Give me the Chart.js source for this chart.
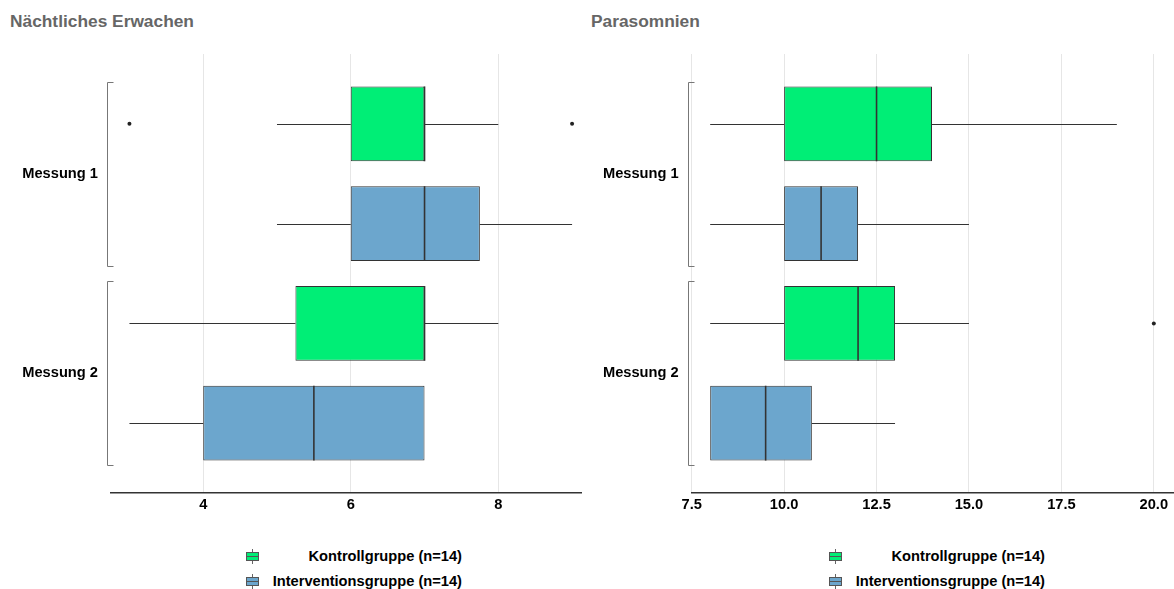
<!DOCTYPE html>
<html><head><meta charset="utf-8">
<script src="https://cdn.jsdelivr.net/npm/chart.js@4.4.1/dist/chart.umd.min.js"></script>
<style>
html,body{margin:0;padding:0;background:#fff;overflow:hidden;width:1174px;height:589px;}
body{position:relative;font-family:"Liberation Sans",Arial,sans-serif;}
.title{position:absolute;top:11px;font-weight:bold;font-size:17.33px;line-height:20px;color:#666;white-space:nowrap;}
canvas{position:absolute;top:0;}
.legtxt{position:absolute;font-weight:bold;font-size:14.67px;line-height:18px;color:#000;text-align:right;white-space:nowrap;}
.ico{position:absolute;width:13px;height:15px;}
.ico .wh{position:absolute;left:6px;top:0;width:1px;height:15px;background:#666;}
.ico .bx{position:absolute;left:0;top:3px;width:11px;height:7px;border:1px solid #555;}
.ico .md{position:absolute;left:0;right:0;top:3px;height:1px;background:#555;}
</style>
</head><body>
<div class="title" style="left:10px;">Nächtliches Erwachen</div>
<div class="title" style="left:591px;">Parasomnien</div>
<canvas id="c1" width="587" height="520" style="left:0px;width:587px;height:520px;"></canvas>
<canvas id="c2" width="590" height="520" style="left:587px;width:590px;height:520px;"></canvas>
<div id="legends"></div>
<script>
// ---------- data ----------
const categories = ["Messung 1", "Messung 2"];
const seriesNames = ["Kontrollgruppe (n=14)", "Interventionsgruppe (n=14)"];
const seriesColors = ["#00EE76", "#6CA6CD"];

// Panel 1: Nächtliches Erwachen
const erwachenKontrollMin = [5, 3];
const erwachenKontrollQ1 = [6, 5.25];
const erwachenKontrollMedian = [7, 7];
const erwachenKontrollQ3 = [7, 7];
const erwachenKontrollMax = [8, 8];
const erwachenKontrollOutliers = [[3, 9], []];
const erwachenInterventionMin = [5, 3];
const erwachenInterventionQ1 = [6, 4];
const erwachenInterventionMedian = [7, 5.5];
const erwachenInterventionQ3 = [7.75, 7];
const erwachenInterventionMax = [9, 7];
const erwachenInterventionOutliers = [[], []];
const erwachenTicks = [4, 6, 8];

// Panel 2: Parasomnien
const paraKontrollMin = [8, 8];
const paraKontrollQ1 = [10, 10];
const paraKontrollMedian = [12.5, 12];
const paraKontrollQ3 = [14, 13];
const paraKontrollMax = [19, 15];
const paraKontrollOutliers = [[], [20]];
const paraInterventionMin = [8, 8];
const paraInterventionQ1 = [10, 8];
const paraInterventionMedian = [11, 9.5];
const paraInterventionQ3 = [12, 10.75];
const paraInterventionMax = [15, 13];
const paraInterventionOutliers = [[], []];
const paraTicks = [7.5, 10, 12.5, 15, 17.5, 20];

// ---------- chart ----------
const FONT = '"Liberation Sans", Arial, sans-serif';

function makeDataset(idx, q1, q3, mn, med, mx, outl) {
  return {
    label: seriesNames[idx],
    data: categories.map((c, i) => ({ y: i + 1, x: [q1[i], q3[i]] })),
    backgroundColor: seriesColors[idx],
    borderColor: '#333333',
    borderWidth: 1,
    borderSkipped: false,
    categoryPercentage: 1,
    barPercentage: 0.75,
    stats: { min: mn, median: med, max: mx, outliers: outl }
  };
}

const boxPlugin = {
  id: 'boxExtras',
  afterDatasetsDraw(chart) {
    const ctx = chart.ctx, xs = chart.scales.x;
    chart.data.datasets.forEach((ds, di) => {
      const meta = chart.getDatasetMeta(di);
      meta.data.forEach((bar, i) => {
        const s = ds.stats;
        const yc = Math.round(bar.y) + 0.5;
        const h = bar.height;
        const q1 = ds.data[i].x[0], q3 = ds.data[i].x[1];
        ctx.save();
        ctx.strokeStyle = '#333333';
        ctx.lineWidth = 1;
        ctx.beginPath();
        if (s.min[i] < q1) {
          ctx.moveTo(xs.getPixelForValue(s.min[i]), yc);
          ctx.lineTo(xs.getPixelForValue(q1), yc);
        }
        if (s.max[i] > q3) {
          ctx.moveTo(xs.getPixelForValue(q3), yc);
          ctx.lineTo(xs.getPixelForValue(s.max[i]), yc);
        }
        ctx.stroke();
        ctx.lineWidth = 1.6;
        ctx.beginPath();
        const mx = xs.getPixelForValue(s.median[i]);
        ctx.moveTo(mx, bar.y - h / 2);
        ctx.lineTo(mx, bar.y + h / 2);
        ctx.stroke();
        ctx.fillStyle = '#222222';
        s.outliers[i].forEach(v => {
          ctx.beginPath();
          ctx.arc(xs.getPixelForValue(v), bar.y, 2, 0, Math.PI * 2);
          ctx.fill();
        });
        ctx.restore();
      });
    });
    // brackets on the category axis
    const ys = chart.scales.y, L = chart.chartArea.left;
    ctx.save();
    ctx.strokeStyle = '#777777';
    ctx.lineWidth = 1;
    categories.forEach((c, i) => {
      const a = ys.getPixelForValue(i + 1 - 0.46), b = ys.getPixelForValue(i + 1 + 0.46);
      const t = Math.round(Math.min(a, b)) + 0.5, bt = Math.round(Math.max(a, b)) + 0.5;
      const vx = Math.round(L - 4) + 0.5;
      ctx.beginPath();
      ctx.moveTo(vx + 6, t); ctx.lineTo(vx, t); ctx.lineTo(vx, bt); ctx.lineTo(vx + 6, bt);
      ctx.stroke();
    });
    ctx.restore();
  }
};

function makeChart(id, datasets, ticks, xmin, xmax, yAxisWidth, padRight, fmt) {
  return new Chart(document.getElementById(id), {
    type: 'bar',
    data: { datasets },
    plugins: [boxPlugin],
    options: {
      indexAxis: 'y',
      responsive: false,
      animation: false,
      devicePixelRatio: 1,
      layout: { padding: { top: 54, right: padRight, left: 0, bottom: 0 } },
      plugins: { legend: { display: false }, tooltip: { enabled: false }, title: { display: false } },
      scales: {
        x: {
          type: 'linear', min: xmin, max: xmax, bounds: 'data', offset: false,
          afterBuildTicks: s => { s.ticks = ticks.map(v => ({ value: v })); },
          afterFit: s => { s.height = 27; },
          grid: { color: '#e6e6e6', lineWidth: 1, drawTicks: false, offset: false },
          border: { display: true, color: '#333333', width: 1.5 },
          ticks: { font: { family: FONT, size: 14.67, weight: 'bold' }, color: '#000', padding: 3,
                   maxRotation: 0, autoSkip: false, callback: v => fmt(v) }
        },
        y: {
          type: 'linear', min: 0.4, max: 2.6, reverse: true, bounds: 'data', offset: false,
          afterBuildTicks: s => { s.ticks = categories.map((c, i) => ({ value: i + 1 })); },
          afterFit: s => { s.width = yAxisWidth; },
          grid: { display: false, drawTicks: false, offset: false },
          border: { display: false },
          ticks: { font: { family: FONT, size: 14.67, weight: 'bold' }, color: '#000', padding: 13,
                   callback: v => categories[Math.round(v) - 1] }
        }
      }
    }
  });
}

makeChart('c1', [
  makeDataset(0, erwachenKontrollQ1, erwachenKontrollQ3, erwachenKontrollMin, erwachenKontrollMedian, erwachenKontrollMax, erwachenKontrollOutliers),
  makeDataset(1, erwachenInterventionQ1, erwachenInterventionQ3, erwachenInterventionMin, erwachenInterventionMedian, erwachenInterventionMax, erwachenInterventionOutliers)
], erwachenTicks, 2.75, 9.125, 111, 5.7, v => String(v));

makeChart('c2', [
  makeDataset(0, paraKontrollQ1, paraKontrollQ3, paraKontrollMin, paraKontrollMedian, paraKontrollMax, paraKontrollOutliers),
  makeDataset(1, paraInterventionQ1, paraInterventionQ3, paraInterventionMin, paraInterventionMedian, paraInterventionMax, paraInterventionOutliers)
], paraTicks, 7.5, 20.6, 104.7, 1, v => v.toFixed(1));

// ---------- legends ----------
const legendHost = document.getElementById('legends');
[[246, 462], [829, 1045]].forEach(([iconLeft, textRight]) => {
  seriesNames.forEach((name, i) => {
    const cy = 556 + i * 25;
    const ico = document.createElement('div');
    ico.className = 'ico';
    ico.style.left = iconLeft + 'px';
    ico.style.top = (cy - 7) + 'px';
    ico.innerHTML = '<div class="wh"></div><div class="bx" style="background:' + seriesColors[i] + '"><div class="md"></div></div>';
    legendHost.appendChild(ico);
    const t = document.createElement('div');
    t.className = 'legtxt';
    t.style.left = (iconLeft + 20) + 'px';
    t.style.width = (textRight - iconLeft - 20) + 'px';
    t.style.top = (cy - 9) + 'px';
    t.textContent = name;
    legendHost.appendChild(t);
  });
});
</script>
</body></html>
